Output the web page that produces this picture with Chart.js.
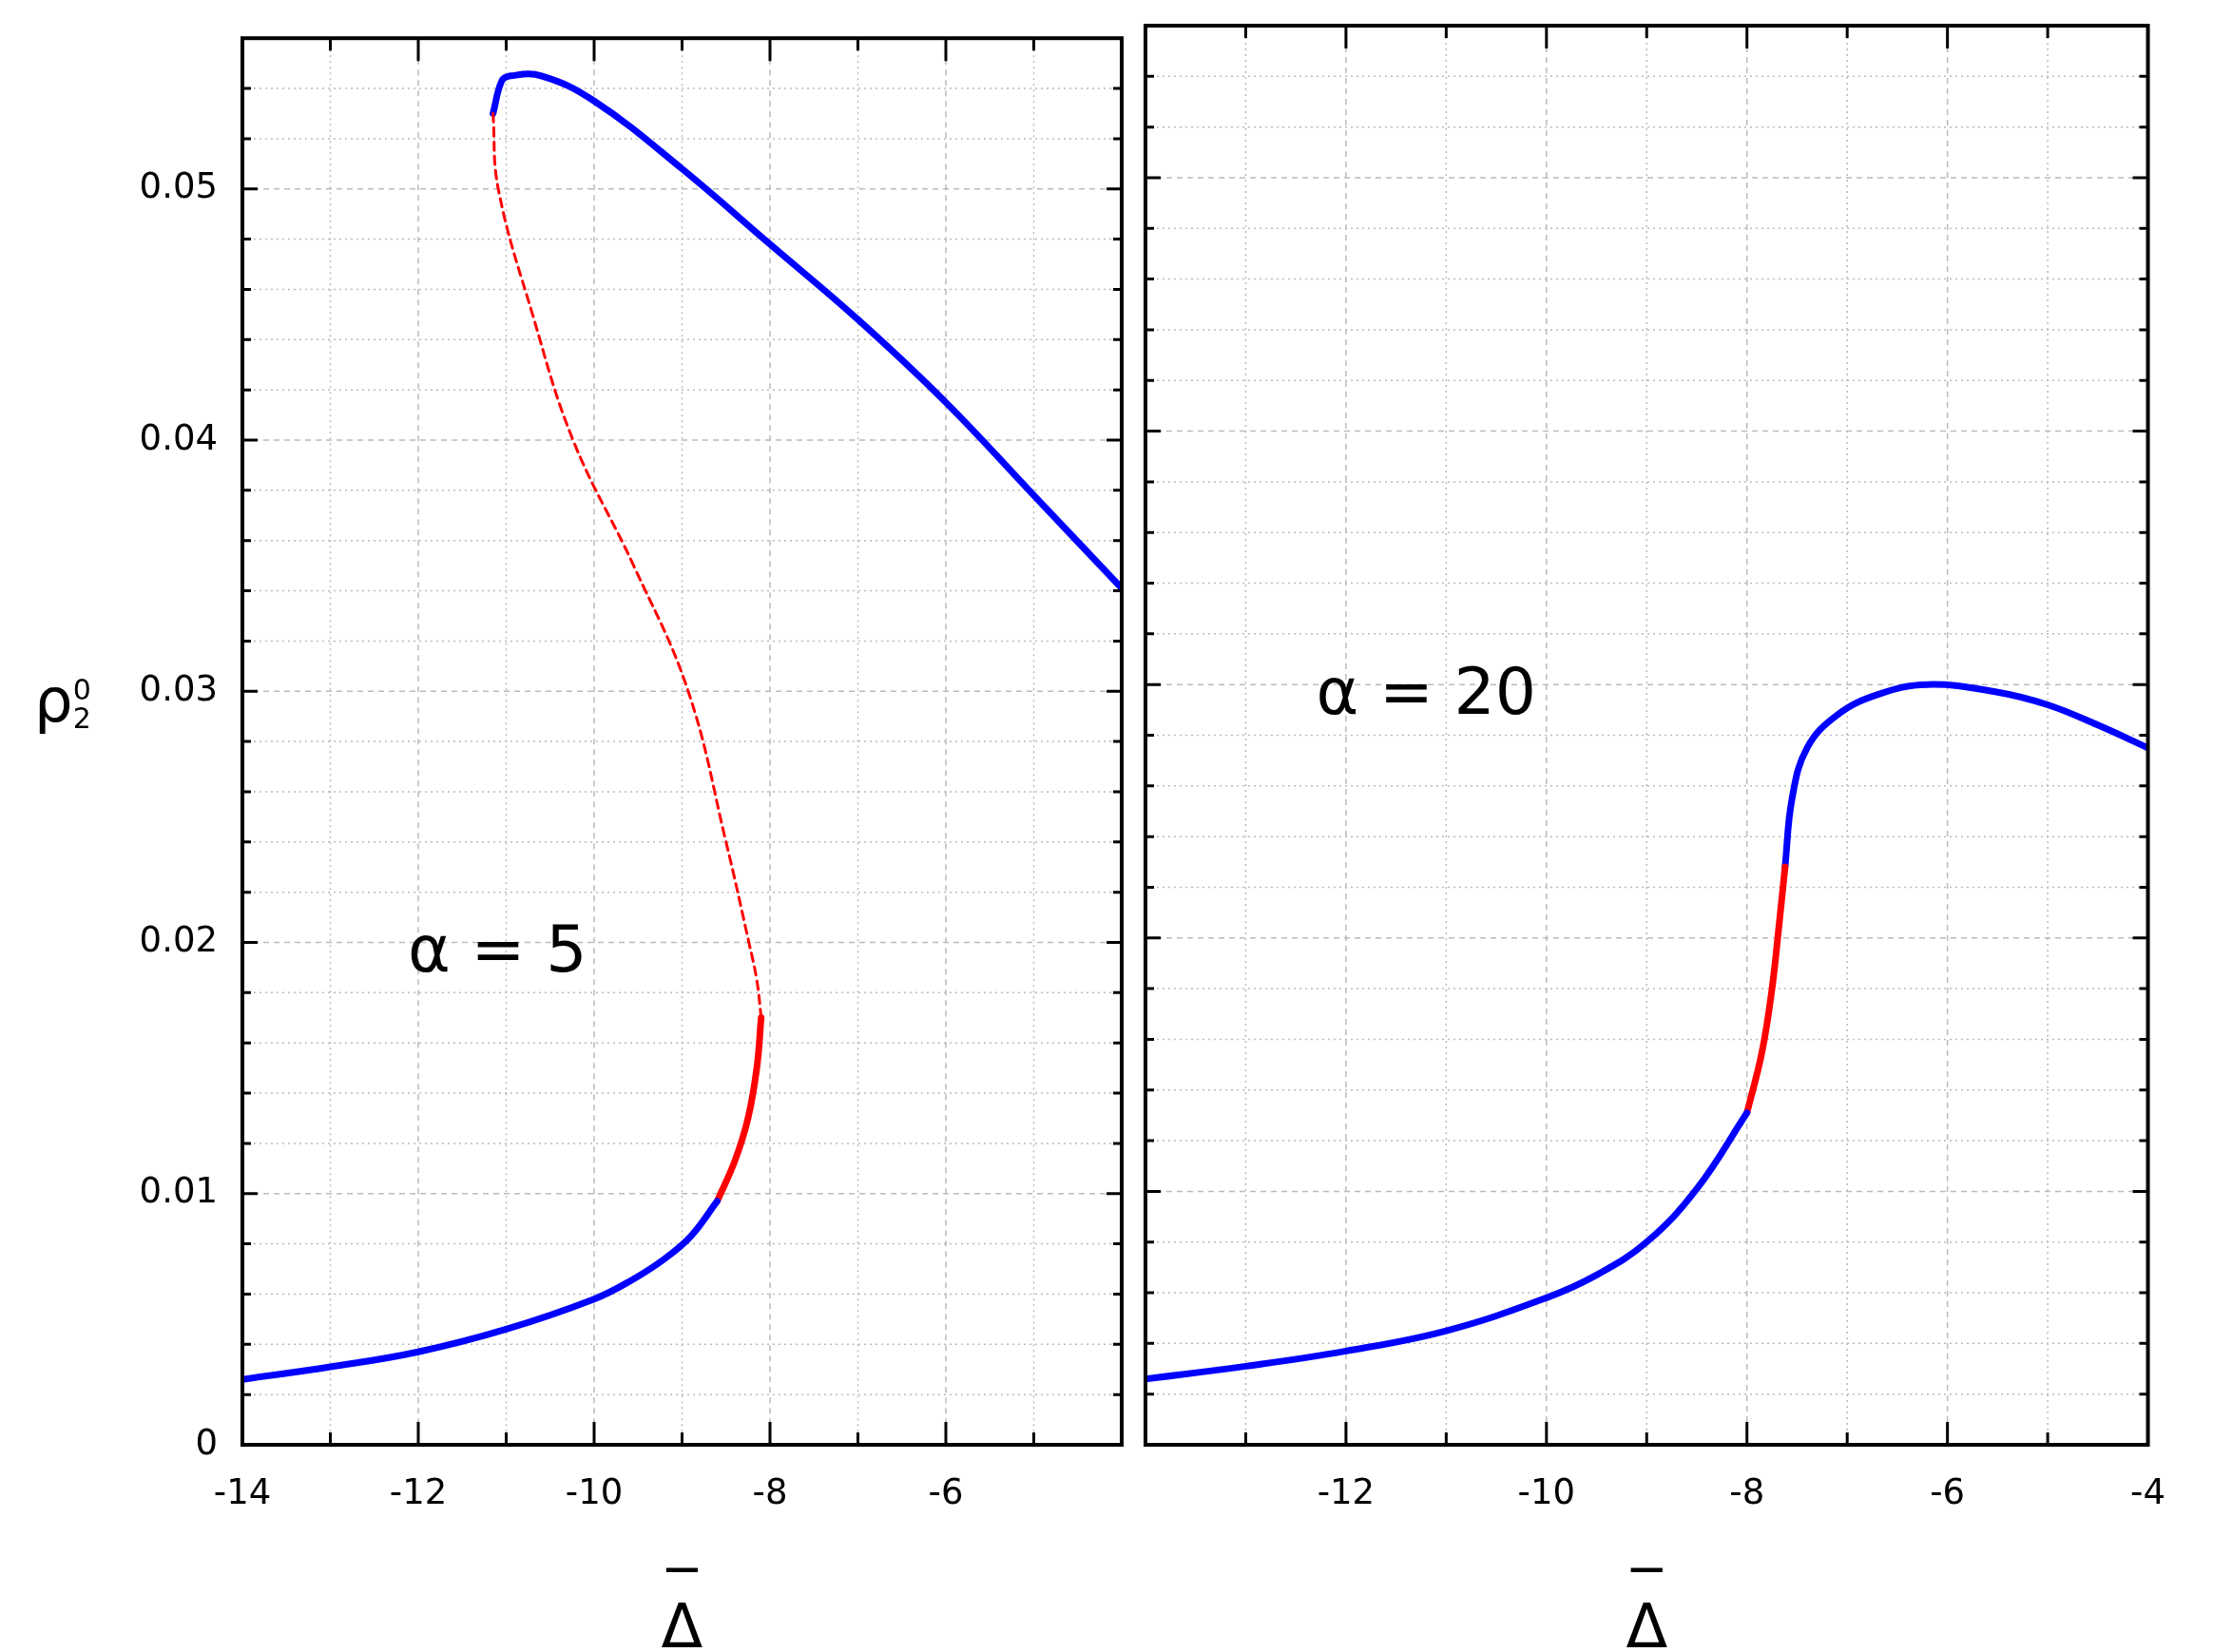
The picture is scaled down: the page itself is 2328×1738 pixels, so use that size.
<!DOCTYPE html>
<html>
<head>
<meta charset="utf-8">
<script src="https://cdn.jsdelivr.net/npm/chart.js@4.4.0/dist/chart.umd.min.js"></script>
<style>
  body { margin: 0; background: #fff; width: 2328px; height: 1738px; position: relative; overflow: hidden; font-family: "DejaVu Sans", sans-serif; }
  .box { position: absolute; top: 0; height: 1738px; }
  .ylab { position: absolute; left: 36px; top: 700px; font-size: 64px; }
  .ylab span { display: inline-block; font-size: 30px; vertical-align: middle; line-height: 30px; }
</style>
</head>
<body>
<div class="box" style="left:0;width:1200px"><canvas id="left"></canvas></div>
<div class="box" style="left:1200px;width:1100px"><canvas id="right"></canvas></div>
<div class="ylab">ρ<span>0<br>2</span></div>
<script>
// alpha = 5
const a5Low = [[-14, 0.0026], [-13, 0.0031], [-12, 0.0037], [-11, 0.0046], [-10, 0.0058], [-9.6, 0.0065], [-9.2, 0.0074], [-8.9, 0.0083], [-8.6, 0.0097]];
const a5RedSolid = [[-8.6, 0.0097], [-8.4, 0.0113], [-8.25, 0.0130], [-8.15, 0.0150], [-8.1, 0.0170]];
const a5RedDash = [[-8.1, 0.0170], [-8.15, 0.0185], [-8.24, 0.0200], [-8.5, 0.0240], [-8.93, 0.0300], [-9.55, 0.0350], [-10.24, 0.0400], [-10.7, 0.0450], [-11.09, 0.0500], [-11.15, 0.0530]];
const a5High = [[-11.15, 0.0530], [-11.05, 0.0543], [-10.95, 0.0545], [-10.6, 0.0545], [-10, 0.0535], [-9, 0.0508], [-8, 0.0478], [-7, 0.0448], [-6, 0.0415], [-5, 0.0378], [-4, 0.0341]];
// alpha = 20
const a20Low = [[-14, 0.0026], [-13, 0.0031], [-12, 0.0037], [-11, 0.0045], [-10, 0.0058], [-9.5, 0.0067], [-9, 0.0080], [-8.5, 0.0101], [-8, 0.0131]];
const a20Red = [[-8, 0.0131], [-7.85, 0.0155], [-7.75, 0.0180], [-7.68, 0.0205], [-7.62, 0.0228]];
const a20High = [[-7.62, 0.0228], [-7.55, 0.0255], [-7.4, 0.0275], [-7.1, 0.0288], [-6.7, 0.0296], [-6.2, 0.0300], [-5.5, 0.0297], [-5, 0.0292], [-4.5, 0.0284], [-4, 0.0275]];

const xMin = -14, xMax = -4, yMin = 0, yMax = 0.056;
const leftXLabels = [-14, -12, -10, -8, -6];
const rightXLabels = [-12, -10, -8, -6, -4];
const yLabels = [0, 0.01, 0.02, 0.03, 0.04, 0.05];

const pts = arr => arr.map(p => ({ x: p[0], y: p[1] }));
const line = (arr, color, width, dash) => ({
    data: pts(arr), borderColor: color, borderWidth: width, borderDash: dash || [],
    pointRadius: 0, tension: 0.4, fill: false, borderCapStyle: 'round'
});

// grid, inward ticks and frame
const framePlugin = {
    id: 'frame',
    beforeDatasetsDraw(chart) {
        const { ctx, chartArea: a, scales: { x, y } } = chart;
        ctx.save();
        ctx.strokeStyle = '#bbb';
        ctx.lineWidth = 1.5;
        for (let v = xMin + 1; v < xMax; v++) {
            const px = x.getPixelForValue(v);
            ctx.setLineDash(v % 2 === 0 ? [6, 5] : [2, 4]);
            ctx.beginPath(); ctx.moveTo(px, a.top); ctx.lineTo(px, a.bottom); ctx.stroke();
        }
        for (let i = 1; i * 0.002 < yMax; i++) {
            const py = y.getPixelForValue(i * 0.002);
            ctx.setLineDash(i % 5 === 0 ? [6, 5] : [2, 4]);
            ctx.beginPath(); ctx.moveTo(a.left, py); ctx.lineTo(a.right, py); ctx.stroke();
        }
        ctx.restore();
    },
    afterDatasetsDraw(chart) {
        const { ctx, chartArea: a, scales: { x, y } } = chart;
        ctx.save();
        ctx.strokeStyle = '#000';
        ctx.lineWidth = 3;
        ctx.beginPath();
        for (let v = xMin + 1; v < xMax; v++) {
            const px = x.getPixelForValue(v), len = v % 2 === 0 ? 24 : 13;
            ctx.moveTo(px, a.bottom); ctx.lineTo(px, a.bottom - len);
            ctx.moveTo(px, a.top); ctx.lineTo(px, a.top + len);
        }
        for (let i = 1; i * 0.002 < yMax; i++) {
            const py = y.getPixelForValue(i * 0.002), len = i % 5 === 0 ? 16 : 9;
            ctx.moveTo(a.left, py); ctx.lineTo(a.left + len, py);
            ctx.moveTo(a.right, py); ctx.lineTo(a.right - len, py);
        }
        ctx.stroke();
        ctx.lineWidth = 4;
        ctx.strokeRect(a.left, a.top, a.right - a.left, a.bottom - a.top);
        ctx.restore();
    }
};

const textPlugin = {
    id: 'alphaText',
    afterDraw(chart) {
        const o = chart.options.plugins.alphaText;
        const { ctx, scales: { x, y } } = chart;
        ctx.save();
        ctx.font = '68px "DejaVu Sans"';
        ctx.fillStyle = '#000';
        ctx.textAlign = 'center';
        ctx.textBaseline = 'middle';
        ctx.fillText(o.text, x.getPixelForValue(o.x), y.getPixelForValue(o.y));
        ctx.restore();
    }
};

function makeChart(id, datasets, xLabels, showY, yWidth, padTop, padRight, label) {
    new Chart(document.getElementById(id), {
        type: 'line',
        data: { datasets },
        options: {
            responsive: true,
            maintainAspectRatio: false,
            animation: false,
            layout: { padding: { top: padTop, right: padRight, bottom: 0, left: 0 } },
            plugins: {
                legend: { display: false },
                tooltip: { enabled: false },
                alphaText: label
            },
            scales: {
                x: {
                    type: 'linear', min: xMin, max: xMax,
                    grid: { display: false }, border: { display: false },
                    afterBuildTicks: s => { s.ticks = xLabels.map(v => ({ value: v })); },
                    ticks: { color: '#000', font: { size: 37, family: 'DejaVu Sans' }, padding: 22, maxRotation: 0 },
                    title: { display: true, text: ['‾', 'Δ'], color: '#000', font: { size: 64, family: 'DejaVu Sans', lineHeight: 0.55 }, padding: { top: 20 } },
                    afterFit: s => { s.height = 218; }
                },
                y: {
                    min: yMin, max: yMax,
                    grid: { display: false }, border: { display: false },
                    afterBuildTicks: s => { s.ticks = yLabels.map(v => ({ value: v })); },
                    ticks: { display: showY, color: '#000', font: { size: 37, family: 'DejaVu Sans' }, padding: 18,
                             callback: v => v === 0 ? '0' : v.toFixed(2) },
                    afterFit: s => { s.width = yWidth; }
                }
            }
        },
        plugins: [framePlugin, textPlugin]
    });
}

makeChart('left', [
    line(a5Low, '#0000ff', 7),
    line(a5RedSolid, '#ff0000', 7),
    line(a5RedDash, '#ff0000', 3, [9, 6]),
    line(a5High, '#0000ff', 7)
], leftXLabels, true, 255, 13, 20, { text: 'α = 5', x: -11.1, y: 0.0195 });

makeChart('right', [
    line(a20Low, '#0000ff', 7),
    line(a20Red, '#ff0000', 7),
    line(a20High, '#0000ff', 7)
], rightXLabels, false, 5, 27, 19, { text: 'α = 20', x: -11.2, y: 0.0295 });
</script>
</body>
</html>
